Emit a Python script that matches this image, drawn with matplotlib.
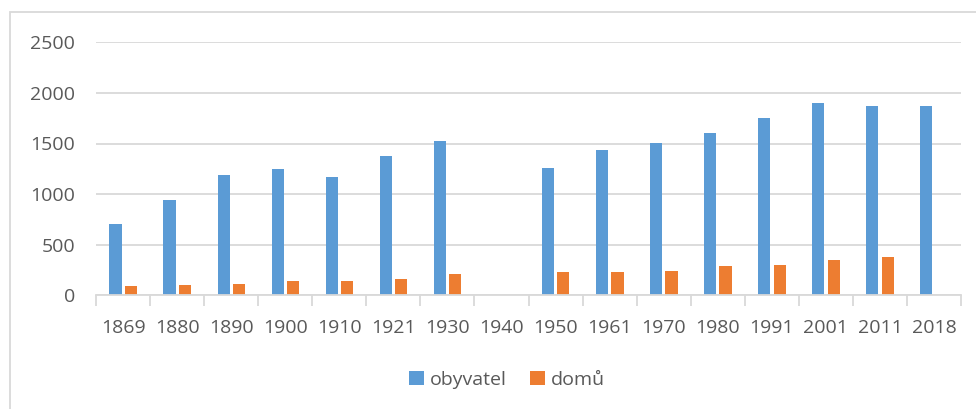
import matplotlib.pyplot as plt
import numpy as np
from matplotlib.patches import Rectangle

years = ["1869", "1880", "1890", "1900", "1910", "1921", "1930", "1940",
         "1950", "1961", "1970", "1980", "1991", "2001", "2011", "2018"]
obyvatel = [705, 940, 1190, 1251, 1166, 1374, 1522, 0,
            1255, 1436, 1502, 1607, 1752, 1903, 1874, 1868]
domu = [92, 102, 112, 138, 144, 161, 210, 0,
        230, 233, 240, 293, 303, 352, 381, 0]

blue = "#5B9BD5"
orange = "#ED7D31"
grid = "#D9D9D9"
text = "#595959"

plt.rcParams['font.family'] = ['Open Sans', 'DejaVu Sans']

fig = plt.figure(figsize=(9.76, 4.09), dpi=100)
ax = fig.add_axes([96 / 976, 1 - 295.3 / 409, 865 / 976, 253 / 409])

x = np.arange(len(years))
w = 0.225
ax.bar(x - 0.14, obyvatel, w, color=blue, label="obyvatel")
ax.bar(x + 0.145, domu, w, color=orange, label="domů")

ax.set_xlim(-0.5, len(years) - 0.5)
ax.set_ylim(0, 2500)
ax.set_yticks(np.arange(0, 2501, 500))
ax.yaxis.grid(True, color=grid, linewidth=1.3)
ax.set_axisbelow(True)
for s in ["top", "right", "left"]:
    ax.spines[s].set_visible(False)
ax.spines["bottom"].set_color(grid)
ax.spines["bottom"].set_linewidth(1.3)

# labels at centers, tick marks at category boundaries
ax.set_xticks(x)
ax.set_xticklabels(years)
ax.tick_params(axis="x", length=0, pad=17, labelsize=14, labelcolor=text)
ax.set_xticks(np.arange(-0.5, len(years)), minor=True)
ax.tick_params(axis="x", which="minor", length=8, width=1.3, color=grid)
ax.tick_params(axis="y", length=0, pad=15, labelsize=14, labelcolor=text)

fig.legend(loc="center", bbox_to_anchor=(507 / 976, 1 - 380 / 409), ncol=2,
           frameon=False, fontsize=14, labelcolor=text, handlelength=0.75,
           handleheight=0.75, handletextpad=0.3, columnspacing=1.2)

fig.patches.append(Rectangle((10 / 976, -0.1), 1.2, 1 - 12 / 409 + 0.1,
                             transform=fig.transFigure, fill=False,
                             edgecolor=grid, linewidth=1.3))

plt.savefig("out.png", dpi=100)
